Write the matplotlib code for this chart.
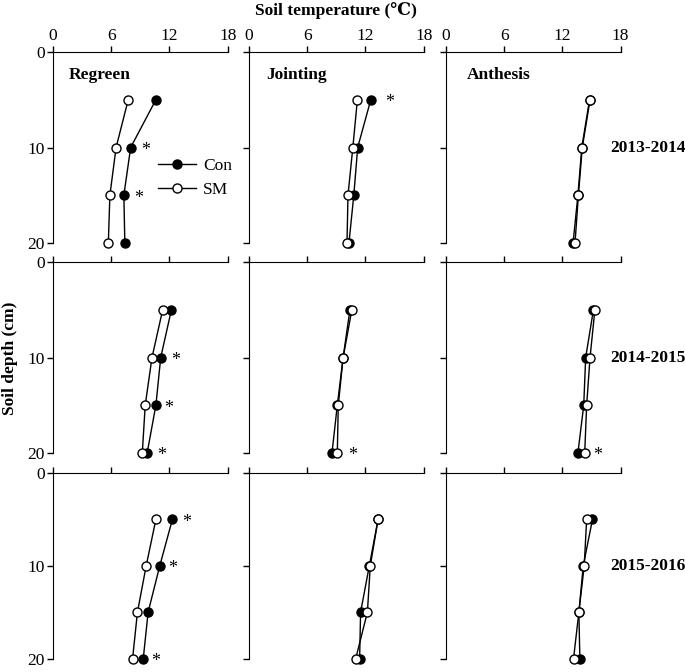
import matplotlib.pyplot as plt

plt.rcParams['font.family'] = ['Liberation Serif', 'DejaVu Serif']

depth = [5, 10, 15, 20]
stages = ['Regreen', 'Jointing', 'Anthesis']
years = ['2013-2014', '2014-2015', '2015-2016']

# soil temperature (degC), rows = years, cols = stages
con = [
    [[10.6, 8.0, 7.3, 7.4], [12.55, 11.2, 10.8, 10.3], [14.8, 14.0, 13.6, 13.1]],
    [[12.2, 11.1, 10.6, 9.7], [10.4, 9.7, 9.1, 8.55], [15.2, 14.4, 14.2, 13.6]],
    [[12.3, 11.0, 9.8, 9.3], [13.3, 12.4, 11.5, 11.4], [15.1, 14.15, 13.7, 13.8]],
]
sm = [
    [[7.75, 6.5, 5.86, 5.7], [11.17, 10.7, 10.2, 10.1], [14.85, 14.05, 13.65, 13.3]],
    [[11.3, 10.2, 9.5, 9.2], [10.6, 9.7, 9.2, 9.1], [15.35, 14.85, 14.5, 14.3]],
    [[10.6, 9.6, 8.7, 8.2], [13.3, 12.5, 12.2, 11.0], [14.5, 14.25, 13.7, 13.15]],
]
# significance marks: (row, col, x position, depth)
stars = [
    (0, 0, 9.5, 10), (0, 0, 8.8, 15), (0, 1, 14.5, 5),
    (1, 0, 12.6, 10), (1, 0, 11.9, 15), (1, 0, 11.2, 20),
    (1, 1, 10.7, 20), (1, 2, 15.6, 20),
    (2, 0, 13.75, 5), (2, 0, 12.35, 10), (2, 0, 10.6, 20),
]

fig = plt.figure(figsize=(6.85, 6.72), dpi=100)
lefts = [0.0774, 0.3635, 0.651]
bottoms = [0.6384, 0.3259, 0.02]
heights = [0.2842, 0.2842, 0.276]
axes = [[None] * 3 for _ in range(3)]

for r in range(3):
    for c in range(3):
        ax = fig.add_axes([lefts[c], bottoms[r], 0.255, heights[r]])
        axes[r][c] = ax
        ax.plot(con[r][c], depth, '-o', color='black', mfc='black', mec='black',
                ms=6.5, lw=1, label='Con', clip_on=False, zorder=3)
        ax.plot(sm[r][c], depth, '-o', color='black', mfc='white', mec='black',
                ms=6.5, lw=1, label='SM', clip_on=False, zorder=4)
        ax.set_xlim(0, 18)
        ax.set_ylim(20, 0)
        ax.set_xticks([0, 6, 12, 18])
        ax.set_yticks([0, 10, 20])
        ax.xaxis.tick_top()
        ax.spines['right'].set_visible(False)
        ax.spines['bottom'].set_visible(False)
        ax.tick_params(direction='out', length=4, width=1, labelsize=12.5, pad=2)
        if r > 0:
            ax.tick_params(labeltop=False)
        if c > 0:
            ax.tick_params(labelleft=False)
        if r == 0:
            ax.text([0.09, 0.1, 0.12][c], 0.88, stages[c], transform=ax.transAxes,
                    fontsize=12.5, fontweight='bold', va='center')
        if c == 2:
            ax.text(0.94, 0.5, years[r], transform=ax.transAxes, fontsize=12.5,
                    fontweight='bold', va='center', clip_on=False)

for r, c, x, d in stars:
    axes[r][c].text(x, d + 0.3, '*', fontsize=13, ha='center', va='center')

axes[0][0].legend(loc='upper left', bbox_to_anchor=(0.6, 0.445), frameon=False,
                  fontsize=12.5, handlelength=2.2, borderpad=0, borderaxespad=0,
                  labelspacing=0.45, handletextpad=0.4)

fig.text(0.49, 0.984, 'Soil temperature (℃)', ha='center', va='center',
         fontsize=12.5, fontweight='bold')
fig.text(0.014, 0.467, 'Soil depth (cm)', ha='center', va='center',
         rotation=90, fontsize=12.5, fontweight='bold')

fig.savefig('out.png', dpi=100)
